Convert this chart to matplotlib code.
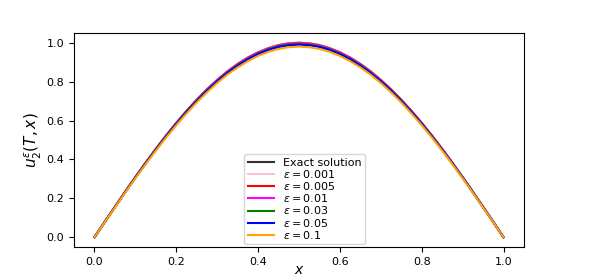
import matplotlib

matplotlib.use("Agg")
import matplotlib.pyplot as plt

# x grid and half-profiles (0 .. 0.5), mirrored for the right half
x = [i / 40 for i in range(41)]
exact_half = [0, .079, .156, .233, .309, .383, .454, .523, .588, .649, .707,
              .760, .809, .853, .891, .924, .951, .972, .988, .997, 1.000]
eps001_half = [0, .079, .156, .233, .309, .383, .454, .523, .588, .649, .707,
               .760, .809, .853, .891, .924, .951, .972, .988, .997, 1.000]
eps005_half = [0, .078, .156, .233, .309, .382, .454, .522, .587, .649, .706,
               .760, .808, .852, .890, .923, .950, .971, .987, .996, .999]
eps01_half = [0, .078, .156, .233, .308, .382, .453, .521, .586, .647, .705,
              .758, .807, .850, .888, .921, .948, .969, .985, .994, .997]
eps03_half = [0, .078, .155, .232, .307, .380, .451, .519, .584, .645, .702,
              .755, .803, .847, .885, .917, .944, .966, .981, .990, .993]
eps05_half = [0, .078, .155, .231, .306, .379, .449, .517, .582, .643, .700,
              .753, .801, .844, .882, .915, .942, .963, .978, .987, .990]
eps1_half = [0, .077, .153, .229, .303, .375, .445, .512, .576, .636, .693,
             .745, .793, .836, .873, .905, .932, .953, .968, .977, .980]

labels = ["Exact solution", r"$\varepsilon=0.001$", r"$\varepsilon=0.005$",
          r"$\varepsilon=0.01$", r"$\varepsilon=0.03$", r"$\varepsilon=0.05$",
          r"$\varepsilon=0.1$"]
colors = ["#333333", "pink", "red", "magenta", "green", "blue", "orange"]
halves = [exact_half, eps001_half, eps005_half, eps01_half, eps03_half,
          eps05_half, eps1_half]


def mirror(half):
    return half + half[-2::-1]


fig = plt.figure(figsize=(5.95, 2.78), dpi=100)
ax = fig.add_axes([74 / 595, 31 / 278, 450 / 595, 214 / 278])

for half, color, label in zip(halves, colors, labels):
    ax.plot(x, mirror(half), color=color, lw=1.5, label=label)

ax.set_xlim(-0.05, 1.05)
ax.set_ylim(-0.05, 1.05)
ax.set_xticks([0.0, 0.2, 0.4, 0.6, 0.8, 1.0])
ax.set_yticks([0.0, 0.2, 0.4, 0.6, 0.8, 1.0])
ax.tick_params(labelsize=8)
ax.set_xlabel(r"$x$", fontsize=10, labelpad=-3)
ax.set_ylabel(r"$u_2^{\varepsilon}(T,x)$", fontsize=11, labelpad=2)
ax.legend(loc="lower center", fontsize=8, handlelength=2.4,
          labelspacing=0.02, borderpad=0.3, borderaxespad=0.25,
          bbox_to_anchor=(0.513, 0.0))

fig.savefig("out.png", dpi=100)
